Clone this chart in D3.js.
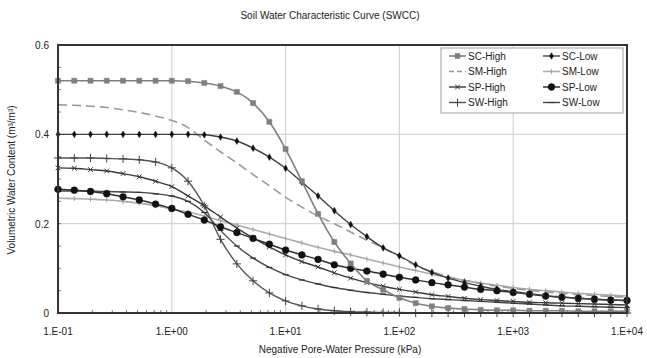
<!DOCTYPE html>
<html><head><meta charset="utf-8">
<script src="https://cdn.jsdelivr.net/npm/d3@7"></script>
<style>body{margin:0;background:#fff}svg text{font-family:"Liberation Sans",Arial,sans-serif;fill:#222}</style>
</head><body><svg id="c" width="647" height="358"></svg>
<script>
const pressure = [0.1,0.139,0.193,0.268,0.373,0.518,0.72,1,1.39,1.93,2.68,3.73,5.18,7.2,10,13.9,19.3,26.8,37.3,51.8,72,100,139,193,268,373,518,720,1000,1390,1930,2680,3730,5180,7200,10000];
const scHigh = [0.52,0.52,0.52,0.52,0.52,0.52,0.52,0.52,0.519,0.515,0.508,0.495,0.47,0.428,0.367,0.295,0.222,0.159,0.111,0.072,0.052,0.034,0.022,0.015,0.011,0.009,0.007,0.006,0.006,0.005,0.005,0.005,0.004,0.004,0.004,0.004];
const scLow = [0.4,0.4,0.4,0.4,0.4,0.4,0.4,0.4,0.4,0.399,0.394,0.385,0.369,0.349,0.324,0.293,0.262,0.229,0.198,0.171,0.146,0.128,0.108,0.091,0.078,0.068,0.06,0.053,0.048,0.043,0.039,0.036,0.033,0.031,0.029,0.028];
const smHigh = [0.466,0.465,0.463,0.46,0.455,0.449,0.441,0.431,0.415,0.387,0.361,0.336,0.31,0.285,0.259,0.237,0.217,0.2,0.181,0.163,0.146,0.127,0.106,0.093,0.081,0.073,0.066,0.06,0.055,0.051,0.047,0.044,0.041,0.039,0.037,0.036];
const smLow = [0.257,0.256,0.255,0.253,0.25,0.246,0.24,0.233,0.226,0.217,0.207,0.197,0.187,0.177,0.167,0.157,0.147,0.138,0.13,0.121,0.112,0.103,0.095,0.087,0.08,0.073,0.067,0.062,0.057,0.053,0.05,0.047,0.044,0.042,0.04,0.038];
const spHigh = [0.325,0.324,0.321,0.318,0.312,0.305,0.295,0.283,0.262,0.24,0.215,0.19,0.168,0.148,0.13,0.115,0.103,0.09,0.078,0.068,0.06,0.053,0.047,0.041,0.037,0.033,0.03,0.028,0.026,0.024,0.023,0.022,0.021,0.02,0.019,0.018];
const spLow = [0.277,0.275,0.272,0.267,0.26,0.253,0.244,0.234,0.221,0.208,0.193,0.18,0.167,0.154,0.141,0.13,0.12,0.108,0.1,0.094,0.087,0.08,0.074,0.068,0.063,0.058,0.053,0.05,0.046,0.042,0.038,0.035,0.033,0.031,0.029,0.028];
const swHigh = [0.347,0.347,0.347,0.346,0.345,0.343,0.338,0.325,0.295,0.24,0.165,0.11,0.072,0.045,0.027,0.016,0.009,0.005,0.003,0.002,0.001,0.001,0,0,0,0,0,0,0,0,0,0,0,0,0,0];
const swLow = [0.273,0.273,0.273,0.272,0.271,0.27,0.267,0.262,0.25,0.225,0.185,0.15,0.123,0.102,0.086,0.074,0.065,0.057,0.051,0.046,0.042,0.038,0.035,0.032,0.03,0.028,0.026,0.024,0.022,0.02,0.018,0.016,0.015,0.014,0.013,0.012];
const seriesNames = ["SC-High","SC-Low","SM-High","SM-Low","SP-High","SP-Low","SW-High","SW-Low"];
const seriesValues = [scHigh,scLow,smHigh,smLow,spHigh,spLow,swHigh,swLow];
const xTickLabels = ["1.E-01","1.E+00","1.E+01","1.E+02","1.E+03","1.E+04"];
const xTickValues = [0.1,1,10,100,1000,10000];
const yTickValues = [0,0.2,0.4,0.6];
const yTickLabels = ["0","0.2","0.4","0.6"];

const styles = [
  {line:"#7f7f7f", w:1.6, dash:null, sym:"square", fill:"#7f7f7f", stroke:"#7f7f7f", size:26},
  {line:"#404040", w:1.4, dash:null, sym:"diamond", fill:"#111", stroke:"#111", size:13},
  {line:"#9a9a9a", w:1.6, dash:"9,5", sym:null},
  {line:"#ababab", w:1.6, dash:null, sym:"vtick", stroke:"#9a9a9a"},
  {line:"#3a3a3a", w:1.4, dash:null, sym:"asterisk", fill:"none", stroke:"#333", size:16},
  {line:"#303030", w:1.5, dash:null, sym:"circle", fill:"#111", stroke:"#111", size:36},
  {line:"#555555", w:1.4, dash:null, sym:"plus", fill:"none", stroke:"#444", size:24},
  {line:"#474747", w:1.4, dash:null, sym:"hdash", stroke:"#333"}
];

const svg = d3.select("#c");
const L=58,R=627,T=45,B=313;
const x = d3.scaleLog().domain([0.1,10000]).range([L,R]);
const y = d3.scaleLinear().domain([0,0.6]).range([B,T]);

const g = svg.append("g");
g.selectAll(".gy").data([0.2,0.4]).join("line").attr("x1",L).attr("x2",R).attr("y1",d=>y(d)).attr("y2",d=>y(d)).attr("stroke","#d4d4d4").attr("stroke-width",1.2);
g.selectAll(".gx").data([1,10,100,1000]).join("line").attr("y1",T).attr("y2",B).attr("x1",d=>x(d)).attr("x2",d=>x(d)).attr("stroke","#d4d4d4").attr("stroke-width",1.2);

const xMinor = [];
for (const dec of [0.1,1,10,100,1000]) for (let k=2;k<=9;k++) xMinor.push(dec*k);
g.selectAll(".mx").data(xMinor).join("line").attr("x1",d=>x(d)).attr("x2",d=>x(d)).attr("y1",B).attr("y2",B-3).attr("stroke","#555").attr("stroke-width",0.8);
g.selectAll(".my").data(d3.range(1,12).map(i=>i*0.05)).join("line").attr("x1",L).attr("x2",L+3).attr("y1",d=>y(d)).attr("y2",d=>y(d)).attr("stroke","#555").attr("stroke-width",0.8);

const line = d3.line().x((d,i)=>x(pressure[i])).y(d=>y(d)).curve(d3.curveMonotoneX);
function drawSym(sel, st, px, py){
  if(!st.sym) return;
  if(st.sym==="vtick"){sel.append("line").attr("x1",px).attr("x2",px).attr("y1",py-2.5).attr("y2",py+2.5).attr("stroke",st.stroke).attr("stroke-width",0.9);return;}
  if(st.sym==="hdash"){sel.append("line").attr("x1",px-3).attr("x2",px+3).attr("y1",py).attr("y2",py).attr("stroke",st.stroke).attr("stroke-width",1.2);return;}
  const t = {square:d3.symbolSquare,diamond:d3.symbolDiamond,circle:d3.symbolCircle,asterisk:d3.symbolTimes,plus:d3.symbolPlus}[st.sym];
  sel.append("path").attr("d",d3.symbol(t,st.size)()).attr("transform",`translate(${px},${py})`)
    .attr("fill",st.fill).attr("stroke",st.stroke).attr("stroke-width",st.fill==="none"?1:0.5);
}
const order=[3,2,7,6,4,5,1,0];
order.forEach(si=>{
  const st=styles[si], vals=seriesValues[si];
  const gs=svg.append("g");
  gs.append("path").attr("d",line(vals)).attr("fill","none").attr("stroke",st.line).attr("stroke-width",st.w).attr("stroke-dasharray",st.dash);
  vals.forEach((v,i)=>drawSym(gs,st,x(pressure[i]),y(v)));
});

svg.append("rect").attr("x",L).attr("y",T).attr("width",R-L).attr("height",B-T).attr("fill","none").attr("stroke","#333").attr("stroke-width",2);

svg.selectAll(".xt").data(xTickValues).join("text").attr("x",d=>x(d)).attr("y",335).attr("text-anchor","middle").attr("font-size",10).text((d,i)=>xTickLabels[i]);
svg.selectAll(".yt").data(yTickValues).join("text").attr("x",49).attr("y",d=>y(d)+4).attr("text-anchor","end").attr("font-size",10).text((d,i)=>yTickLabels[i]);
svg.append("text").attr("x",340).attr("y",353).attr("text-anchor","middle").attr("font-size",10).text("Negative Pore-Water Pressure (kPa)");
svg.append("text").attr("transform","translate(15,180) rotate(-90)").attr("text-anchor","middle").attr("font-size",10).text("Volumetric Water Content (m³/m³)");
svg.append("text").attr("x",330).attr("y",19).attr("text-anchor","middle").attr("font-size",10).text("Soil Water Characteristic Curve (SWCC)");

const lg=svg.append("g");
lg.append("rect").attr("x",441).attr("y",48).attr("width",182).attr("height",65).attr("fill","#fff").attr("stroke","#a0a0a0").attr("stroke-width",1);
seriesNames.forEach((n,i)=>{
  const col=i%2,row=Math.floor(i/2);
  const sx=col?543:449, ly=56+row*15.5;
  const st=styles[i];
  lg.append("line").attr("x1",sx).attr("x2",sx+17).attr("y1",ly).attr("y2",ly).attr("stroke",st.line).attr("stroke-width",st.w).attr("stroke-dasharray",st.dash?"5,3":null);
  drawSym(lg,st,sx+8.5,ly);
  lg.append("text").attr("x",sx+19).attr("y",ly+3.5).attr("font-size",10).text(n);
});
</script></body></html>
